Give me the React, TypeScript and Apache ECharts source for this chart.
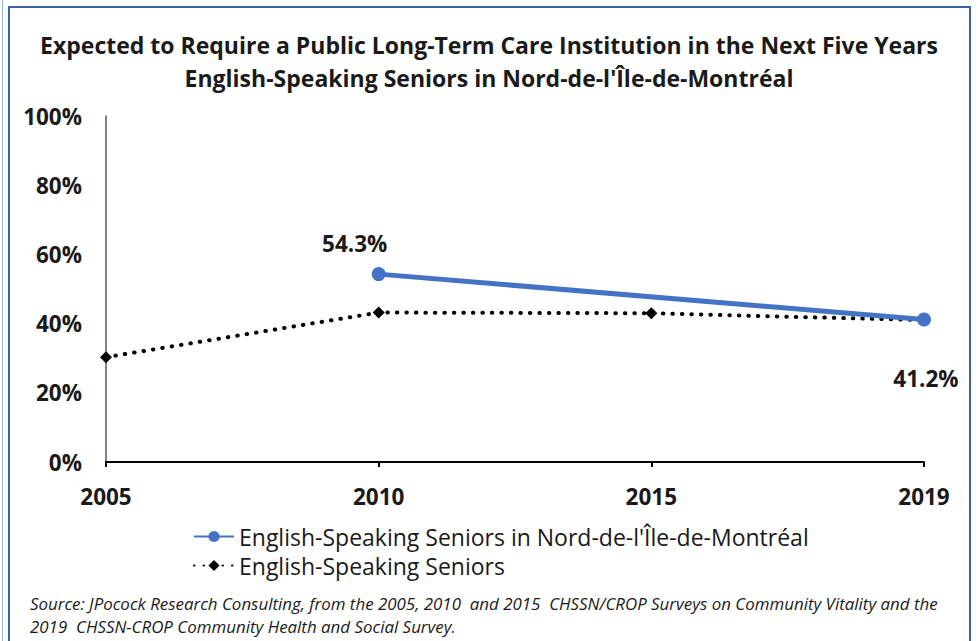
import React, { useEffect, useRef } from "react";
import * as echarts from "echarts";

const categories = ["2005", "2010", "2015", "2019"];
const nordValues: (number | null)[] = [null, 54.3, null, 41.2];
const seniorsValues: number[] = [30.3, 43.2, 43.0, 41.0];
const seriesNames = [
  "English-Speaking Seniors in Nord-de-l'Île-de-Montréal",
  "English-Speaking Seniors",
];
const titleLines = [
  "Expected to Require a Public Long-Term Care Institution in the Next Five Years",
  "English-Speaking Seniors in Nord-de-l'Île-de-Montréal",
];
const sourceLines = [
  "Source: JPocock Research Consulting, from the 2005, 2010  and 2015  CHSSN/CROP Surveys on Community Vitality and the",
  "2019  CHSSN-CROP Community Health and Social Survey.",
];

const FONT = "'Open Sans', 'Noto Sans', sans-serif";

export default function App() {
  const ref = useRef<HTMLDivElement>(null);
  useEffect(() => {
    if (!ref.current) return;
    const chart = echarts.init(ref.current, undefined, { renderer: "svg" });
    const nordData = nordValues.map((v, i) => {
      if (v === null) return null;
      const above = i === 1;
      return {
        value: v,
        label: above
          ? { position: "top", distance: 12, offset: [-24, 0] }
          : { position: "bottom", distance: 41, offset: [2, 0] },
      };
    });
    chart.setOption({
      animation: false,
      backgroundColor: "#ffffff",
      textStyle: { fontFamily: FONT },
      title: {
        text: titleLines.join("\n"),
        left: "center",
        top: 23,
        textStyle: {
          fontFamily: FONT,
          fontWeight: "bold",
          fontSize: 23,
          lineHeight: 33,
          color: "#1a1a1a",
        },
      },
      grid: { left: 106, right: 54, top: 116, bottom: 179, containLabel: false },
      xAxis: {
        type: "category",
        data: categories,
        boundaryGap: false,
        axisLine: { lineStyle: { color: "#000", width: 2 } },
        axisTick: { show: true, length: 5, inside: false, lineStyle: { color: "#000", width: 2 } },
        axisLabel: { margin: 23, fontSize: 22.5, fontWeight: "bold", color: "#1a1a1a", fontFamily: FONT },
        splitLine: { show: false },
      },
      yAxis: {
        type: "value",
        min: 0,
        max: 100,
        interval: 20,
        axisLine: { show: true, lineStyle: { color: "#595959", width: 1.5 } },
        axisTick: { show: false },
        splitLine: { show: false },
        axisLabel: {
          margin: 24,
          fontSize: 22.5,
          fontWeight: "bold",
          color: "#1a1a1a",
          fontFamily: FONT,
          formatter: "{value}%",
        },
      },
      legend: {
        orient: "vertical",
        left: 188,
        top: 520,
        itemGap: 6,
        itemWidth: 40,
        itemHeight: 14,
        textStyle: { fontSize: 23, color: "#1a1a1a", fontFamily: FONT },
        data: seriesNames,
      },
      series: [
        {
          name: seriesNames[0],
          type: "line",
          data: nordData,
          connectNulls: true,
          symbol: "circle",
          symbolSize: 14,
          z: 3,
          lineStyle: { color: "#4472C4", width: 5 },
          itemStyle: { color: "#4472C4" },
          label: {
            show: true,
            fontSize: 22.5,
            fontWeight: "bold",
            color: "#1a1a1a",
            fontFamily: FONT,
            formatter: (p: any) => Number(p.value).toFixed(1) + "%",
          },
          emphasis: { disabled: true },
        },
        {
          name: seriesNames[1],
          type: "line",
          data: seniorsValues,
          symbol: "diamond",
          symbolSize: 12,
          z: 2,
          lineStyle: { color: "#000", width: 4, type: [0.5, 9], cap: "round" },
          itemStyle: { color: "#000" },
          label: { show: false },
          emphasis: { disabled: true },
        },
      ],
      graphic: [
        {
          type: "rect",
          shape: { x: 2, y: -10, width: 1, height: 700 },
          style: { fill: "#9DB6DE" },
          silent: true,
        },
        {
          type: "rect",
          shape: { x: 9, y: 7, width: 961, height: 700 },
          style: { fill: "none", stroke: "#3A62A8", lineWidth: 2 },
          silent: true,
        },
        {
          type: "text",
          left: 30,
          top: 592,
          style: {
            text: sourceLines.join("\n"),
            fontFamily: FONT,
            fontStyle: "italic",
            fontSize: 16.9,
            lineHeight: 23,
            fill: "#1a1a1a",
          },
          silent: true,
        },
      ],
    });
    return () => chart.dispose();
  }, []);
  return (
    <div
      ref={ref}
      style={{ position: "fixed", left: 0, top: 0, width: 978, height: 641 }}
    />
  );
}
